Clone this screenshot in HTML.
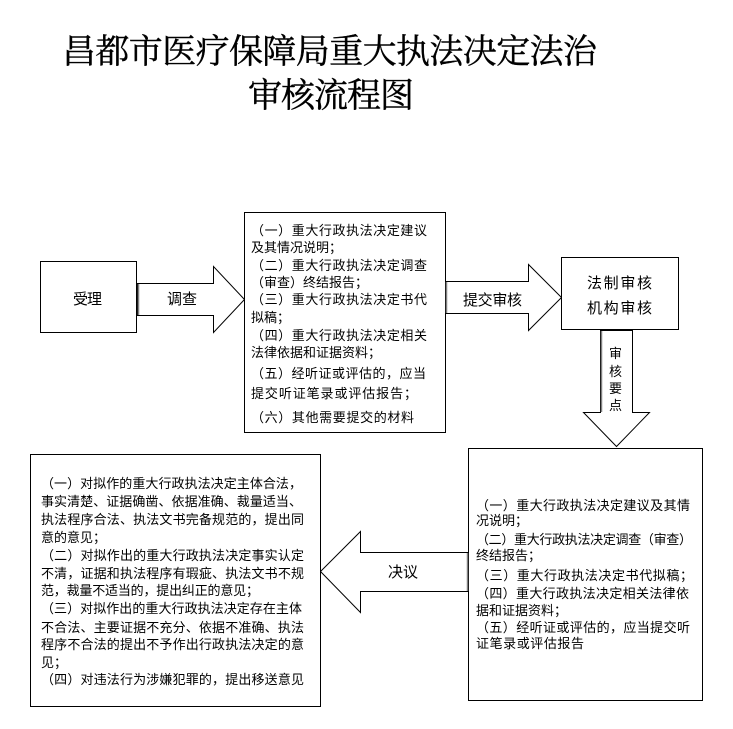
<!DOCTYPE html>
<html>
<head>
<meta charset="utf-8">
<style>
html,body{margin:0;padding:0;background:#fff;}
svg{display:block;}
.t{font-family:"Liberation Sans","Noto Sans CJK SC",sans-serif;font-size:13px;fill:#000;}
.l{font-family:"Liberation Sans","Noto Sans CJK SC",sans-serif;font-size:15px;fill:#000;}
.h{font-family:"Noto Serif CJK SC","Noto Serif CJK JP","Liberation Serif",serif;font-size:34px;fill:#000;stroke:#000;stroke-width:0.4;}
</style>
</head>
<body>
<svg width="733" height="729" viewBox="0 0 733 729" xmlns="http://www.w3.org/2000/svg">
<rect x="0" y="0" width="733" height="729" fill="#fff"/>

<!-- Title -->
<text class="h" x="62" y="63" textLength="535" lengthAdjust="spacing">昌都市医疗保障局重大执法决定法治</text>
<text class="h" x="248" y="107" textLength="166" lengthAdjust="spacing">审核流程图</text>

<g fill="#fff" stroke="#000" stroke-width="1">
  <rect x="40.5" y="261.5" width="96" height="71"/>
  <polygon points="137.5,283.5 213.5,283.5 213.5,266.5 244.5,299.5 213.5,332.5 213.5,315.5 137.5,315.5"/>
  <rect x="244.5" y="212.5" width="201" height="220"/>
  <polygon points="445.5,281.5 528.5,281.5 528.5,264.5 561.5,297.5 528.5,330.5 528.5,313.5 445.5,313.5"/>
  <rect x="561.5" y="257.5" width="117" height="72"/>
  <polygon points="600.5,330.5 632.5,330.5 632.5,412.5 649.5,412.5 616.5,446.5 583.5,412.5 600.5,412.5"/>
  <rect x="468.5" y="448.5" width="234" height="252"/>
  <polygon points="468.5,552.5 360.5,552.5 360.5,531.5 320.5,571.5 360.5,612.5 360.5,591.5 468.5,591.5"/>
  <rect x="30.5" y="454.5" width="290" height="252"/>
</g>
<g stroke="#808080" stroke-width="1.5" fill="none">
  <line x1="138.5" y1="284" x2="138.5" y2="315"/>
  <line x1="446.5" y1="282" x2="446.5" y2="313"/>
  <line x1="601.5" y1="331" x2="601.5" y2="412"/>
  <line x1="467.5" y1="553" x2="467.5" y2="591"/>
</g>

<!-- labels -->
<text class="l" x="73" y="304" textLength="29" lengthAdjust="spacing">受理</text>
<text class="l" x="167" y="304" textLength="30" lengthAdjust="spacing">调查</text>
<text class="l" x="463" y="305" textLength="59" lengthAdjust="spacing">提交审核</text>
<text class="l" x="587" y="288" textLength="65" lengthAdjust="spacing">法制审核</text>
<text class="l" x="587" y="313" textLength="65" lengthAdjust="spacing">机构审核</text>
<text class="l" x="388" y="577" textLength="30" lengthAdjust="spacing">决议</text>
<text class="t" x="609" y="358">审</text>
<text class="t" x="609" y="376">核</text>
<text class="t" x="609" y="393">要</text>
<text class="t" x="609" y="410">点</text>

<!-- box 2 text -->
<text class="t" x="251" y="235" textLength="176" lengthAdjust="spacing">（一）重大行政执法决定建议</text>
<text class="t" x="251" y="252">及其情况说明；</text>
<text class="t" x="251" y="270" textLength="176" lengthAdjust="spacing">（二）重大行政执法决定调查</text>
<text class="t" x="251" y="287">（审查）终结报告；</text>
<text class="t" x="251" y="304" textLength="176" lengthAdjust="spacing">（三）重大行政执法决定书代</text>
<text class="t" x="251" y="322">拟稿；</text>
<text class="t" x="251" y="340" textLength="176" lengthAdjust="spacing">（四）重大行政执法决定相关</text>
<text class="t" x="251" y="357">法律依据和证据资料；</text>
<text class="t" x="251" y="378" textLength="175" lengthAdjust="spacing">（五）经听证或评估的，应当</text>
<text class="t" x="251" y="398" textLength="166" lengthAdjust="spacing">提交听证笔录或评估报告；</text>
<text class="t" x="251" y="422" textLength="163" lengthAdjust="spacing">（六）其他需要提交的材料</text>

<!-- bottom right box text -->
<text class="t" x="476" y="510" textLength="214" lengthAdjust="spacing">（一）重大行政执法决定建议及其情</text>
<text class="t" x="476" y="525">况说明；</text>
<text class="t" x="476" y="544" textLength="216" lengthAdjust="spacing">（二）重大行政执法决定调查（审查）</text>
<text class="t" x="476" y="560">终结报告；</text>
<text class="t" x="476" y="580" textLength="217" lengthAdjust="spacing">（三）重大行政执法决定书代拟稿；</text>
<text class="t" x="476" y="598" textLength="213" lengthAdjust="spacing">（四）重大行政执法决定相关法律依</text>
<text class="t" x="476" y="615">据和证据资料；</text>
<text class="t" x="476" y="632" textLength="214" lengthAdjust="spacing">（五）经听证或评估的，应当提交听</text>
<text class="t" x="476" y="648" textLength="108" lengthAdjust="spacing">证笔录或评估报告</text>

<!-- bottom left box text -->
<text class="t" x="41" y="488" textLength="261" lengthAdjust="spacing">（一）对拟作的重大行政执法决定主体合法，</text>
<text class="t" x="41" y="506" textLength="261" lengthAdjust="spacing">事实清楚、证据确凿、依据准确、裁量适当、</text>
<text class="t" x="41" y="524" textLength="263" lengthAdjust="spacing">执法程序合法、执法文书完备规范的，提出同</text>
<text class="t" x="41" y="542">意的意见；</text>
<text class="t" x="41" y="560" textLength="263" lengthAdjust="spacing">（二）对拟作出的重大行政执法决定事实认定</text>
<text class="t" x="41" y="578" textLength="263" lengthAdjust="spacing">不清，证据和执法程序有瑕疵、执法文书不规</text>
<text class="t" x="41" y="595" textLength="218" lengthAdjust="spacing">范，裁量不适当的，提出纠正的意见；</text>
<text class="t" x="41" y="613" textLength="261" lengthAdjust="spacing">（三）对拟作出的重大行政执法决定存在主体</text>
<text class="t" x="41" y="632" textLength="263" lengthAdjust="spacing">不合法、主要证据不充分、依据不准确、执法</text>
<text class="t" x="41" y="649" textLength="263" lengthAdjust="spacing">程序不合法的提出不予作出行政执法决定的意</text>
<text class="t" x="41" y="667">见；</text>
<text class="t" x="41" y="684" textLength="263" lengthAdjust="spacing">（四）对违法行为涉嫌犯罪的，提出移送意见</text>
</svg>
</body>
</html>
